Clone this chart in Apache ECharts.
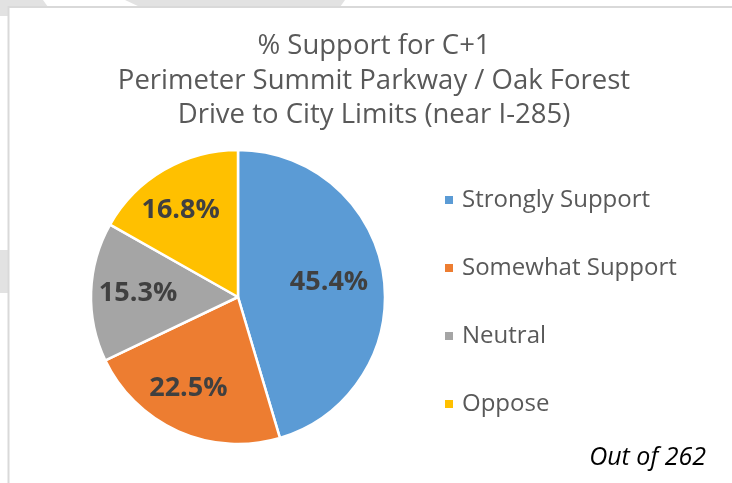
<!DOCTYPE html>
<html>
<head>
<meta charset="utf-8">
<script src="https://cdn.jsdelivr.net/npm/echarts@6/dist/echarts.min.js"></script>
<style>
  html, body { margin: 0; padding: 0; background: #ffffff; }
  #chart { width: 732px; height: 483px; }
</style>
</head>
<body>
<div id="chart"></div>
<script>
// Survey responses for the C+1 corridor
const categories = ['Strongly Support', 'Somewhat Support', 'Neutral', 'Oppose'];
const shares = [45.4, 22.5, 15.3, 16.8];
const colors = ['#5B9BD5', '#ED7D31', '#A5A5A5', '#FFC000'];
const titleLines = [
  '% Support for C+1',
  'Perimeter Summit Parkway / Oak Forest',
  'Drive to City Limits (near I-285)'
];
const footnote = 'Out of 262';

// small per-slice label nudges [dx, dy] in px
const labelNudge = [[-8, -6], [-9, 0], [0, -3], [-7, 3]];

const FONT = 'Open Sans';

function nudgePadding(n) {
  const dx = n[0], dy = n[1];
  return [
    dy > 0 ? 2 * dy : 0,
    dx < 0 ? -2 * dx : 0,
    dy < 0 ? -2 * dy : 0,
    dx > 0 ? 2 * dx : 0
  ];
}

const pieData = categories.map((name, i) => ({
  name,
  value: shares[i],
  itemStyle: { color: colors[i] }
}));

const labelData = categories.map((name, i) => ({
  name: name + ' ',
  value: shares[i],
  label: { padding: nudgePadding(labelNudge[i]) }
}));

const chart = echarts.init(document.getElementById('chart'), null, { renderer: 'canvas' });

const center = [238, 297];
const radius = 147;

chart.setOption({
  backgroundColor: '#ffffff',
  animation: false,
  title: {
    text: titleLines.join('\n'),
    left: 369,
    top: 24,
    textAlign: 'center',
    textStyle: {
      fontFamily: FONT,
      fontSize: 27.5,
      fontWeight: 'normal',
      color: '#595959',
      lineHeight: 34.5
    }
  },
  legend: {
    orient: 'vertical',
    left: 438,
    top: 182,
    icon: 'rect',
    itemWidth: 10,
    itemHeight: 10,
    itemGap: 42,
    selectedMode: false,
    data: categories,
    textStyle: {
      fontFamily: FONT,
      fontSize: 24,
      color: '#595959',
      lineHeight: 26,
      padding: [0, 0, 0, 3]
    }
  },
  graphic: [
    // faint backdrop shapes behind the frame
    { type: 'polygon', silent: true, z: -10,
      shape: { points: [[0, 0], [43, 0], [48, 7], [8, 7], [8, 16], [0, 16]] },
      style: { fill: '#e2e2e2' } },
    { type: 'polygon', silent: true, z: -10,
      shape: { points: [[125, 0], [345, 0], [340, 7], [140, 7]] },
      style: { fill: '#e2e2e2' } },
    { type: 'rect', silent: true, z: -10,
      shape: { x: 0, y: 250, width: 8, height: 43 },
      style: { fill: '#e2e2e2' } },
    // chart frame
    { type: 'rect', silent: true, z: -5,
      shape: { x: 8.5, y: 7, width: 800, height: 600 },
      style: { fill: '#ffffff', stroke: '#d9d9d9', lineWidth: 2 } },
    {
      type: 'text',
      right: 26,
      top: 445,
      style: {
        text: footnote,
        fontFamily: FONT,
        fontStyle: 'italic',
        fontSize: 25,
        fill: '#000000'
      }
    }
  ],
  series: [
    {
      type: 'pie',
      center: center,
      radius: radius,
      startAngle: 90,
      clockwise: true,
      silent: true,
      label: { show: false },
      labelLine: { show: false },
      itemStyle: { borderColor: '#ffffff', borderWidth: 2.5 },
      data: pieData
    },
    {
      // label carrier: same slices, transparent, labels pushed outward
      type: 'pie',
      center: center,
      radius: [radius * 0.32, radius],
      startAngle: 90,
      clockwise: true,
      silent: true,
      legendHoverLink: false,
      itemStyle: { color: 'rgba(0,0,0,0)', borderWidth: 0 },
      label: {
        show: true,
        position: 'inside',
        formatter: p => p.value.toFixed(1) + '%',
        fontFamily: FONT,
        fontSize: 27,
        fontWeight: 'bold',
        color: '#404040'
      },
      labelLine: { show: false },
      data: labelData
    }
  ]
});
</script>
</body>
</html>
